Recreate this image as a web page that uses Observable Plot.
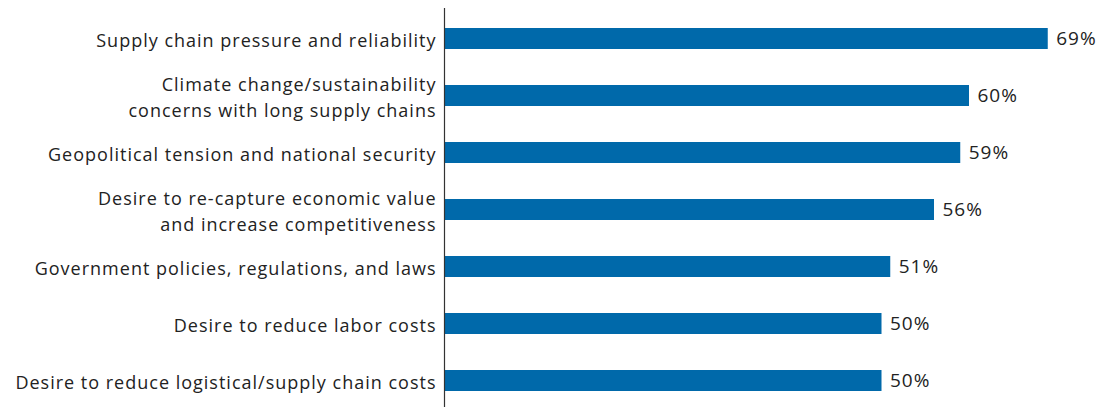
<!DOCTYPE html>
<html>
<head>
<meta charset="utf-8">
<script src="https://cdn.jsdelivr.net/npm/d3@7"></script>
<script src="https://cdn.jsdelivr.net/npm/@observablehq/plot@0.6"></script>
<style>
  html, body { margin: 0; padding: 0; background: #fff; }
  #chart svg { display: block; }
  #chart text { letter-spacing: 1px; }
</style>
</head>
<body>
<div id="chart"></div>
<script>
const categories = [
  "Supply chain pressure and reliability",
  "Climate change/sustainability\nconcerns with long supply chains",
  "Geopolitical tension and national security",
  "Desire to re-capture economic value\nand increase competitiveness",
  "Government policies, regulations, and laws",
  "Desire to reduce labor costs",
  "Desire to reduce logistical/supply chain costs"
];
const values = [69, 60, 59, 56, 51, 50, 50];
const valueLabels = ["69%", "60%", "59%", "56%", "51%", "50%", "50%"];

const data = categories.map((c, i) => ({cat: c, value: values[i], label: valueLabels[i]}));

const FONT = "'Open Sans', sans-serif";
const chart = Plot.plot({
  width: 1111,
  height: 407,
  marginLeft: 444,
  marginRight: 0,
  marginTop: 8,
  marginBottom: 0,
  style: {fontFamily: FONT, background: "#fff"},
  x: {domain: [0, 667 / 8.75], axis: null},
  y: {domain: categories, range: [8.25, 410.75], padding: 0, axis: null},
  marks: [
    Plot.barX(data, {x: "value", y: "cat", fill: "#0069aa", insetTop: 18, insetBottom: 18}),
    Plot.ruleX([0], {stroke: "#333", strokeWidth: 1.2}),
    Plot.text(data, {x: 0, y: "cat", text: "cat", textAnchor: "end", dx: -8, fontSize: 18, lineHeight: 1.4, fill: "#222"}),
    Plot.text(data, {x: "value", y: "cat", text: "label", textAnchor: "start", dx: 8, fontSize: 19, fill: "#222"})
  ]
});
document.getElementById("chart").appendChild(chart);
</script>
</body>
</html>
